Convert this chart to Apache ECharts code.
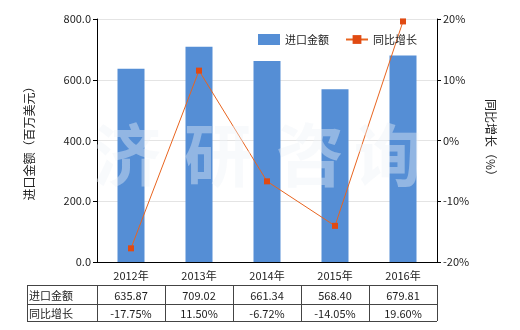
<!DOCTYPE html>
<html><head><meta charset="utf-8">
<script src="https://cdn.jsdelivr.net/npm/echarts@6/dist/echarts.min.js"></script>
<style>html,body{margin:0;padding:0;background:#fff}#c{width:520px;height:330px}</style>
</head><body><div id="c"></div>
<script>
var categories = ['2012年','2013年','2014年','2015年','2016年'];
var importValues = [635.87, 709.02, 661.34, 568.40, 679.81];
var growthValues = [-17.75, 11.50, -6.72, -14.05, 19.60];
var rowLabels = ['进口金额','同比增长'];
var seriesNames = ['进口金额','同比增长'];
var leftAxisName = '进口金额（百万美元）';
var rightAxisName = '同比增长（%）';
var watermarkChars = ['济','研','咨','询'];

var FONT = '"Noto Sans CJK SC", sans-serif';
var G = {left:97, right:437, top:19, bottom:262};
var chart = echarts.init(document.getElementById('c'));

var graphics = [];
// watermark
var wmX = [127, 218, 310, 388];
watermarkChars.forEach(function(ch, i){
  graphics.push({type:'text', z:10, x:wmX[i], y:155, style:{text:ch, font:'bold 68px ' + FONT, fill:'rgba(238,242,247,0.4)', textAlign:'center', textVerticalAlign:'middle'}});
});
// table
var tL = 27, tTop = 285, rowH = [19, 17];
var colW = (G.right - G.left) / categories.length;
var tBottom = tTop + rowH[0] + rowH[1];
var lineStyle = {stroke:'#444', lineWidth:1};
graphics.push({type:'line', shape:{x1:tL, y1:tTop+0.5, x2:G.right, y2:tTop+0.5}, style:lineStyle});
graphics.push({type:'line', shape:{x1:tL, y1:tTop+rowH[0]+0.5, x2:G.right, y2:tTop+rowH[0]+0.5}, style:lineStyle});
graphics.push({type:'line', shape:{x1:tL, y1:tBottom+0.5, x2:G.right, y2:tBottom+0.5}, style:lineStyle});
graphics.push({type:'line', shape:{x1:tL+0.5, y1:tTop, x2:tL+0.5, y2:tBottom}, style:lineStyle});
for (var i = 0; i <= categories.length; i++) {
  var x = Math.round(G.left + i*colW) + 0.5;
  graphics.push({type:'line', shape:{x1:x, y1:tTop, x2:x, y2:tBottom}, style:lineStyle});
}
var rows = [
  importValues.map(function(v){return v.toFixed(2);}),
  growthValues.map(function(v){return v.toFixed(2) + '%';})
];
var rowY = [tTop + rowH[0]/2 + 1, tTop + rowH[0] + rowH[1]/2 + 1];
rows.forEach(function(r, ri){
  graphics.push({type:'text', x:tL+2, y:rowY[ri], style:{text:rowLabels[ri], font:'11px ' + FONT, fill:'#222', textAlign:'left', textVerticalAlign:'middle'}});
  r.forEach(function(t, ci){
    graphics.push({type:'text', x:G.left + (ci+0.5)*colW, y:rowY[ri], style:{text:t, font:'11px ' + FONT, fill:'#222', textAlign:'center', textVerticalAlign:'middle'}});
  });
});

chart.setOption({
  animation:false,
  textStyle:{fontFamily:FONT},
  grid:{left:G.left, right:520-G.right, top:G.top, bottom:330-G.bottom, containLabel:false},
  legend:{
    top:29, left:253, itemGap:16, itemWidth:22, itemHeight:11,
    textStyle:{fontSize:11, color:'#222', fontFamily:FONT},
    data:[{name:seriesNames[0], icon:'rect'}, {name:seriesNames[1]}]
  },
  xAxis:{
    type:'category', data:categories,
    axisLine:{lineStyle:{color:'#000'}},
    axisTick:{show:false},
    axisLabel:{color:'#222', fontSize:11, margin:8}
  },
  yAxis:[{
    type:'value', min:0, max:800, interval:200,
    name:leftAxisName, nameLocation:'middle', nameGap:62, nameRotate:90,
    nameTextStyle:{fontSize:12, color:'#222'},
    axisLine:{show:true, lineStyle:{color:'#000'}},
    axisTick:{show:true, length:4, lineStyle:{color:'#000'}},
    axisLabel:{color:'#222', fontSize:11, margin:6, formatter:function(v){return v.toFixed(1);}},
    splitLine:{lineStyle:{color:'#e4e4e4'}}
  },{
    type:'value', min:-20, max:20, interval:10,
    name:rightAxisName, nameLocation:'middle', nameGap:48, nameRotate:-90,
    nameTextStyle:{fontSize:12, color:'#222'},
    axisLine:{show:true, lineStyle:{color:'#000'}},
    axisTick:{show:true, length:4, lineStyle:{color:'#000'}},
    axisLabel:{color:'#222', fontSize:11, margin:6, formatter:'{value}%'},
    splitLine:{show:false}
  }],
  series:[{
    name:seriesNames[0], type:'bar', data:importValues, barWidth:27,
    itemStyle:{color:'#558ed5'}, z:2
  },{
    name:seriesNames[1], type:'line', yAxisIndex:1, data:growthValues,
    symbol:'rect', symbolSize:6,
    lineStyle:{color:'#e8641f', width:1},
    itemStyle:{color:'#e04a12'}, z:3
  }],
  graphic:graphics
});
</script></body></html>
